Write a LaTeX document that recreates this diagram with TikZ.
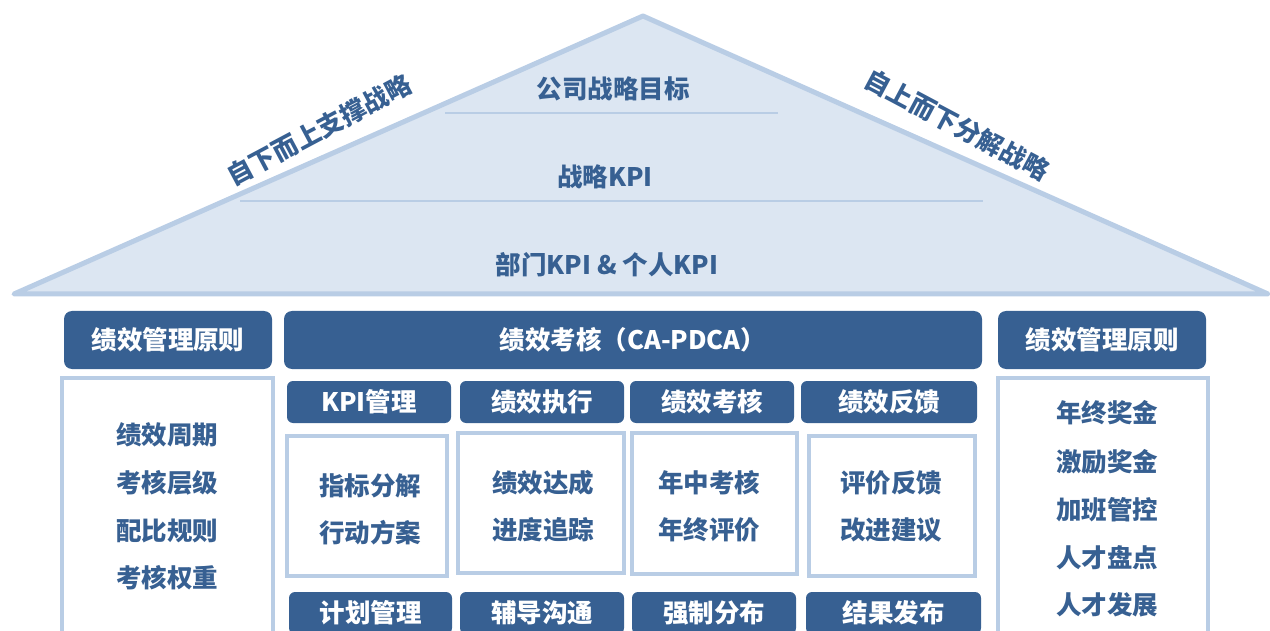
\documentclass[tikz,border=0pt]{standalone}
\usepackage{fontspec}
\setmainfont{Noto Sans CJK SC}
\definecolor{dkblue}{RGB}{55,96,146}
\definecolor{ltblue}{RGB}{185,205,229}
\definecolor{rooffill}{RGB}{220,230,242}
\begin{document}
\begin{tikzpicture}[x=1pt,y=-1pt,
  hdr/.style={fill=dkblue, rounded corners=8pt, text=white, font=\bfseries\fontsize{25.5}{28}\selectfont, inner sep=0pt},
  cbox/.style={draw=ltblue, line width=4pt, fill=white, inner sep=0pt},
  txt/.style={text=dkblue, font=\bfseries\fontsize{25.5}{28}\selectfont, inner sep=0pt},
  rooftxt/.style={text=dkblue, font=\bfseries\fontsize{25.5}{28}\selectfont, inner sep=0pt}]
\useasboundingbox (0,0) rectangle (1270,631);
\clip (0,0) rectangle (1270,631);
% roof
\draw[draw=ltblue, fill=rooffill, line width=5pt, line join=round] (14,294) -- (643,16) -- (1268,294) -- cycle;
\draw[ltblue, line width=2pt] (445,113) -- (778,113);
\draw[ltblue, line width=2pt] (240,201) -- (983,201);
\node[rooftxt] (r1) at (613,89) {公司战略目标};
\node[rooftxt] (r2) at (605,177) {战略KPI};
\node[rooftxt] (r3) at (607,265) {部门KPI \& 个人KPI};
\node[rooftxt, rotate=28] (lup) at (319,130) {自下而上支撑战略};
\node[rooftxt, rotate=-28] (ldown) at (957,125) {自上而下分解战略};
% headers
\node[hdr, minimum width=208, minimum height=58] (hl) at (168,340) {绩效管理原则};
\node[hdr, minimum width=698, minimum height=58] (hc) at (633,340) {绩效考核（CA-PDCA）};
\node[hdr, minimum width=208, minimum height=58] (hr) at (1102,340) {绩效管理原则};
% left & right columns
\node[cbox, minimum width=211, minimum height=322] (bl) at (167.5,539) {};
\node[cbox, minimum width=210, minimum height=322] (br) at (1103,539) {};
\node[txt] (l1) at (167,435) {绩效周期};
\node[txt] (l2) at (167,483) {考核层级};
\node[txt] (l3) at (167,531) {配比规则};
\node[txt] (l4) at (167,578) {考核权重};
\node[txt] (q1) at (1107,413) {年终奖金};
\node[txt] (q2) at (1107,462) {激励奖金};
\node[txt] (q3) at (1107,510) {加班管控};
\node[txt] (q4) at (1107,558) {人才盘点};
\node[txt] (q5) at (1107,605) {人才发展};
% sub headers
\node[hdr, rounded corners=6pt, minimum width=164, minimum height=42] (s1) at (369,402) {KPI管理};
\node[hdr, rounded corners=6pt, minimum width=164, minimum height=42] (s2) at (542,402) {绩效执行};
\node[hdr, rounded corners=6pt, minimum width=164, minimum height=42] (s3) at (712,402) {绩效考核};
\node[hdr, rounded corners=6pt, minimum width=176, minimum height=42] (s4) at (889,402) {绩效反馈};
% content boxes
\node[cbox, minimum width=160, minimum height=140] (c1) at (367,506) {};
\node[cbox, minimum width=166, minimum height=140] (c2) at (541,503) {};
\node[cbox, minimum width=165, minimum height=141] (c3) at (714.5,503.5) {};
\node[cbox, minimum width=166, minimum height=140] (c4) at (892,506) {};
\node[txt] (t11) at (370,486) {指标分解};
\node[txt] (t12) at (370,533) {行动方案};
\node[txt] (t21) at (543,483) {绩效达成};
\node[txt] (t22) at (543,530) {进度追踪};
\node[txt] (t31) at (709,483) {年中考核};
\node[txt] (t32) at (709,530) {年终评价};
\node[txt] (t41) at (891,483) {评价反馈};
\node[txt] (t42) at (891,530) {改进建议};
% bottom headers
\node[hdr, rounded corners=6pt, minimum width=163, minimum height=42] (b1) at (370.5,613) {计划管理};
\node[hdr, rounded corners=6pt, minimum width=164, minimum height=42] (b2) at (542,613) {辅导沟通};
\node[hdr, rounded corners=6pt, minimum width=164, minimum height=42] (b3) at (714,613) {强制分布};
\node[hdr, rounded corners=6pt, minimum width=175, minimum height=42] (b4) at (893.5,613) {结果发布};
\end{tikzpicture}
\end{document}
